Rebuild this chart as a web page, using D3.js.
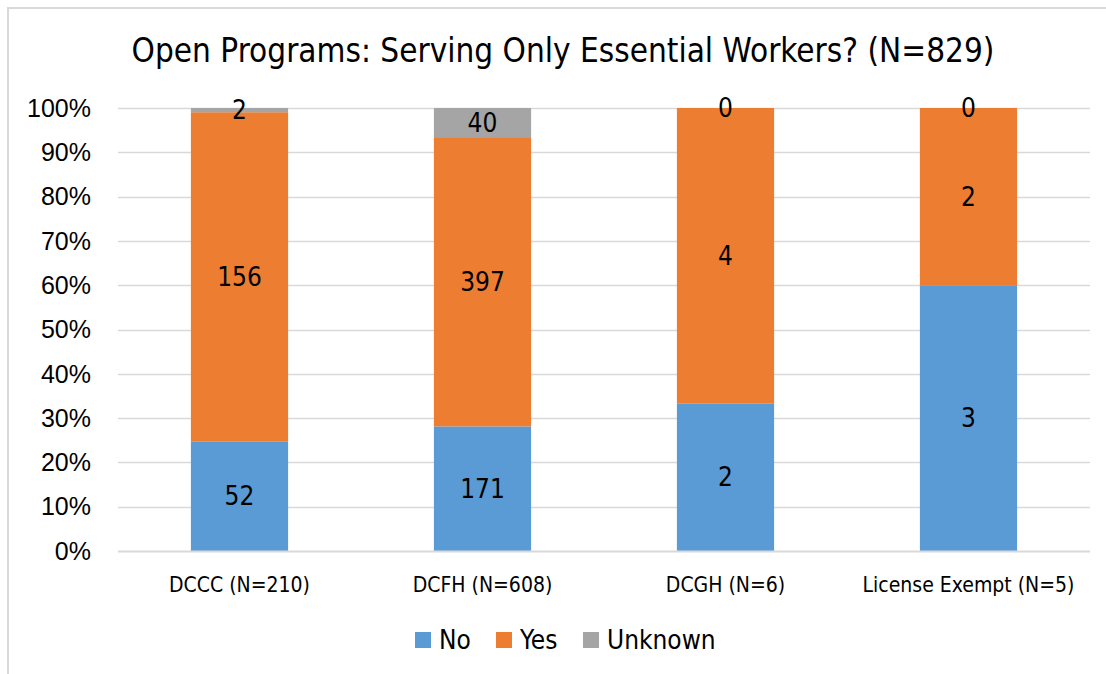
<!DOCTYPE html>
<html>
<head>
<meta charset="utf-8">
<script src="https://cdn.jsdelivr.net/npm/d3@7"></script>
<style>
  body { margin: 0; background: #fff; }
  svg { display: block; }
  text { font-family: "Liberation Sans Narrow", "DejaVu Sans Condensed", "Liberation Sans", sans-serif; fill: #000; }
</style>
</head>
<body>
<svg id="chart" width="1106" height="674"></svg>
<script>
const categories = ["DCCC (N=210)", "DCFH (N=608)", "DCGH (N=6)", "License Exempt (N=5)"];
const seriesNames = ["No", "Yes", "Unknown"];
const noValues = [52, 171, 2, 3];
const yesValues = [156, 397, 4, 2];
const unknownValues = [2, 40, 0, 0];
const yTicks = [0, 0.1, 0.2, 0.3, 0.4, 0.5, 0.6, 0.7, 0.8, 0.9, 1.0];
const colors = ["#5B9BD5", "#ED7D31", "#A5A5A5"];
const title = "Open Programs: Serving Only Essential Workers? (N=829)";

const svg = d3.select("#chart");
const W = 1106, H = 674;
const plot = { left: 118, right: 1090, top: 108, bottom: 551 };

// Outer frame (left and top visible)
svg.append("path")
  .attr("d", `M8,${H} L8,8 L${W},8`)
  .attr("fill", "none").attr("stroke", "#D9D9D9").attr("stroke-width", 2);

const rows = categories.map((c, i) => {
  const vals = [noValues[i], yesValues[i], unknownValues[i]];
  const total = d3.sum(vals);
  const r = { category: c, total };
  seriesNames.forEach((s, j) => { r[s] = vals[j] / total; r[s + "_n"] = vals[j]; });
  return r;
});

const stack = d3.stack().keys(seriesNames);
const stacked = stack(rows);

const x = d3.scaleBand().domain(categories).range([plot.left, plot.right]).paddingInner(0.6).paddingOuter(0.3);
const y = d3.scaleLinear().domain([0, 1]).range([plot.bottom, plot.top]);

// Gridlines
svg.append("g").selectAll("line").data(yTicks.filter(t => t > 0)).join("line")
  .attr("x1", plot.left).attr("x2", plot.right)
  .attr("y1", d => Math.round(y(d)) + 0.5).attr("y2", d => Math.round(y(d)) + 0.5)
  .attr("stroke", "#D9D9D9").attr("stroke-width", 1.5);

// Y tick labels
svg.append("g").selectAll("text").data(yTicks).join("text")
  .attr("x", 91).attr("y", d => y(d))
  .attr("dy", "0.35em").attr("text-anchor", "end")
  .style("font-family", "'Liberation Sans', Arial, sans-serif")
  .attr("font-size", 25)
  .text(d => d3.format(".0%")(d));

// Bars
const layers = svg.append("g").selectAll("g").data(stacked).join("g")
  .attr("fill", (d, i) => colors[i]);
layers.selectAll("rect").data(d => d.map(v => Object.assign(v, { key: d.key }))).join("rect")
  .attr("x", d => x(d.data.category))
  .attr("width", x.bandwidth())
  .attr("y", d => y(d[1]))
  .attr("height", d => y(d[0]) - y(d[1]));

// Baseline
svg.append("line")
  .attr("x1", plot.left).attr("x2", plot.right)
  .attr("y1", plot.bottom + 0.5).attr("y2", plot.bottom + 0.5)
  .attr("stroke", "#D9D9D9").attr("stroke-width", 2);

// Value labels
const labelG = svg.append("g");
stacked.forEach((layer, i) => {
  layer.forEach(d => {
    const n = d.data[layer.key + "_n"];
    let cy = y((d[0] + d[1]) / 2);
    labelG.append("text")
      .attr("x", x(d.data.category) + x.bandwidth() / 2)
      .attr("y", cy)
      .attr("dy", "0.35em")
      .attr("text-anchor", "middle")
      .attr("font-size", 26)
      .text(n);
  });
});

// Category labels
svg.append("g").selectAll("text").data(categories).join("text")
  .attr("x", d => x(d) + x.bandwidth() / 2)
  .attr("y", 585).attr("dy", "0.35em")
  .attr("text-anchor", "middle")
  .attr("font-size", 21)
  .text(d => d);

// Title
svg.append("text")
  .attr("x", 563).attr("y", 50).attr("dy", "0.35em")
  .attr("text-anchor", "middle")
  .attr("font-size", 33)
  .text(title);

// Legend
const legendItems = [
  { name: "No", sx: 415, tx: 439 },
  { name: "Yes", sx: 496, tx: 520 },
  { name: "Unknown", sx: 583, tx: 607 }
];
const lg = svg.append("g");
legendItems.forEach((it, i) => {
  lg.append("rect").attr("x", it.sx).attr("y", 632).attr("width", 16).attr("height", 16).attr("fill", colors[i]);
  lg.append("text").attr("x", it.tx).attr("y", 640).attr("dy", "0.35em").attr("font-size", 26).text(seriesNames[i]);
});
</script>
</body>
</html>
